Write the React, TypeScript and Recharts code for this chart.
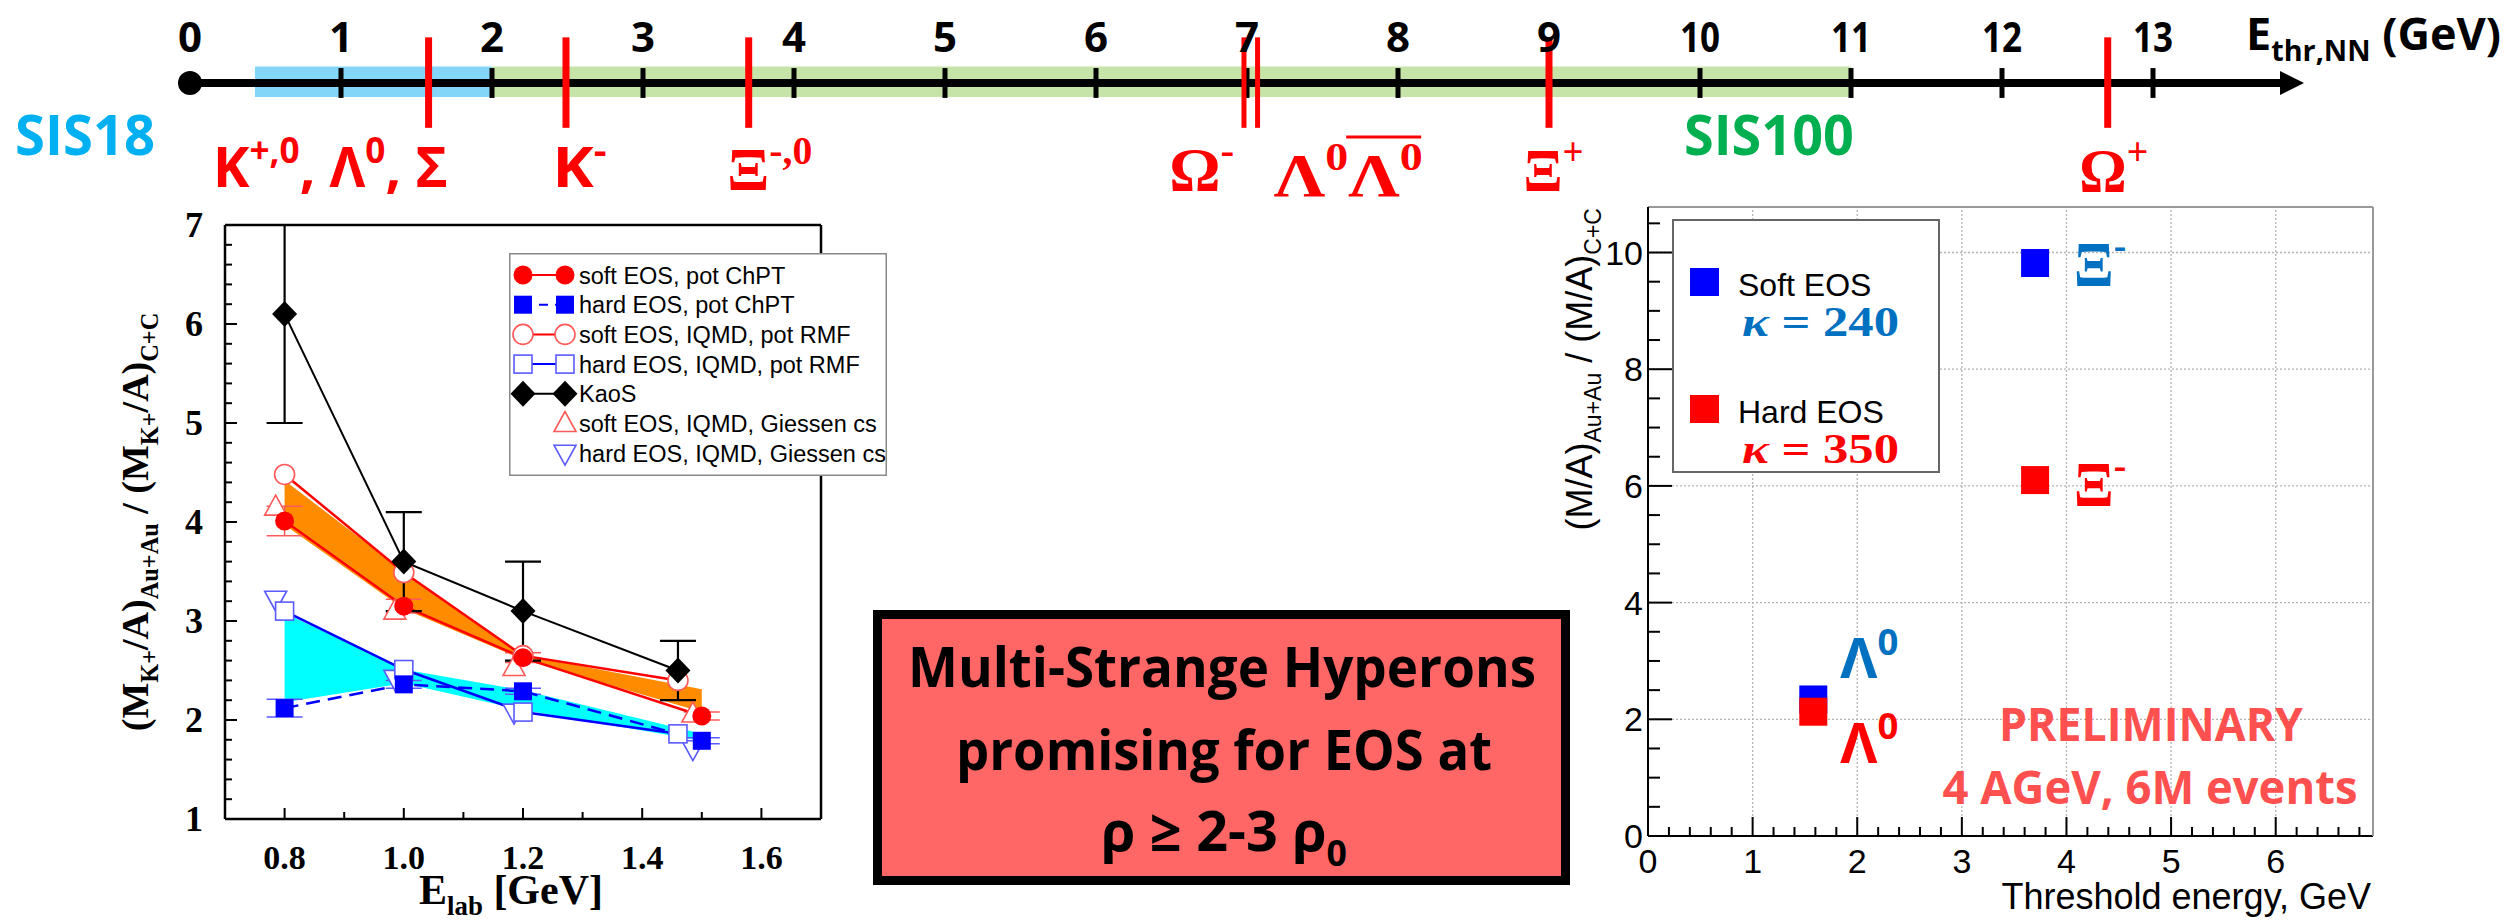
import React from 'react';
import {
  ComposedChart,
  Line,
  Area,
  Scatter,
  XAxis,
  YAxis,
  ReferenceLine,
  ReferenceArea,
  ReferenceDot,
  ErrorBar,
  Legend,
} from 'recharts';

const SLIDE = '"Open Sans", "Noto Sans", sans-serif';
const SERIF = '"Liberation Serif", "DejaVu Serif", serif';
const HELV = '"Liberation Sans", Arial, sans-serif';
const RED = '#FF0000';
const BLUE = '#0000FF';
const DEEP_BLUE = '#0070C0';

// ---- threshold scale, E_thr,NN in GeV
const scaleTicks = [0, 1, 2, 3, 4, 5, 6, 7, 8, 9, 10, 11, 12, 13];
const sis18Range = [0.43, 2];
const sis100Range = [2, 11];
const thresholds = [1.58, 2.49, 3.7, 6.98, 7.07, 9.0, 12.7];
const particleLabels = ['K^{+,0}, Λ^{0}, Σ', 'K^{-}', 'Ξ^{-,0}', 'Ω^{-}', 'Λ^{0}Λ^{0}', 'Ξ^{+}', 'Ω^{+}'];
const particleLabelAt = [0.93, 2.58, 3.84, 6.7, 7.67, 9.03, 12.74];

// ---- K+ double ratio vs beam energy
const energyTicks = [0.7, 0.8, 0.9, 1.0, 1.1, 1.2, 1.3, 1.4, 1.5, 1.6, 1.7];
const energyLabels = [0.8, 1.0, 1.2, 1.4, 1.6];
const ratioTicks = [1, 1.2, 1.4, 1.6, 1.8, 2, 2.2, 2.4, 2.6, 2.8, 3, 3.2, 3.4, 3.6, 3.8, 4, 4.2, 4.4, 4.6, 4.8, 5, 5.2, 5.4, 5.6, 5.8, 6, 6.2, 6.4, 6.6, 6.8, 7];
const ratioMax = 7;

const kaosE = [0.8, 1.0, 1.2, 1.46];
const kaosRatio = [6.1, 3.6, 3.1, 2.5];
const kaosErr = [1.1, 0.5, 0.5, 0.3];

const chptE = [0.8, 1.0, 1.2, 1.5];
const softChpt = [4.01, 3.15, 2.63, 2.04];
const softChptErr = [0.15, 0.07, 0.05, 0.04];
const hardChpt = [2.12, 2.36, 2.29, 1.79];
const hardChptErr = [0.09, 0.04, 0.03, 0.03];

const rmfE = [0.8, 1.0, 1.2, 1.46];
const softRmf = [4.48, 3.49, 2.65, 2.4];
const hardRmf = [3.1, 2.51, 2.08, 1.86];

const giessenE = [0.785, 0.985, 1.185, 1.485];
const softGiessen = [4.15, 3.1, 2.53, 2.06];
const hardGiessen = [3.22, 2.42, 2.08, 1.71];

const bandE = [0.8, 1.0, 1.2, 1.5];
const softBandLow = [3.97, 3.12, 2.61, 2.08];
const softBandHigh = [4.42, 3.5, 2.66, 2.31];
const hardBandLow = [2.18, 2.37, 2.1, 1.79];
const hardBandHigh = [3.08, 2.51, 2.3, 1.86];

// ---- multi-strange ratio vs threshold energy
const thrTicksX = [0, 0.2, 0.4, 0.6, 0.8, 1, 1.2, 1.4, 1.6, 1.8, 2, 2.2, 2.4, 2.6, 2.8, 3, 3.2, 3.4, 3.6, 3.8, 4, 4.2, 4.4, 4.6, 4.8, 5, 5.2, 5.4, 5.6, 5.8, 6, 6.2, 6.4, 6.6, 6.8];
const thrTicksY = [0, 0.5, 1, 1.5, 2, 2.5, 3, 3.5, 4, 4.5, 5, 5.5, 6, 6.5, 7, 7.5, 8, 8.5, 9, 9.5, 10, 10.5];
const hyperons = ['Λ^{0}', 'Ξ^{-}'];
const hyperonThr = [1.58, 3.7];
const softEos = [2.34, 9.82];
const hardEos = [2.13, 6.1];
const eosNames = ['Soft EOS', 'Hard EOS'];
const kappa = [240, 350];

const isInt = (v: number) => Math.abs(v - Math.round(v)) < 1e-6;

// tiny markup: ^{..} superscript, _{..} subscript
function splitRich(s: string) {
  const out: { t: string; k: string }[] = [];
  const re = /([\^_])\{([^}]*)\}/g;
  let last = 0;
  let m: RegExpExecArray | null;
  while ((m = re.exec(s))) {
    if (m.index > last) out.push({ t: s.slice(last, m.index), k: 'n' });
    out.push({ t: m[2], k: m[1] });
    last = re.lastIndex;
  }
  if (last < s.length) out.push({ t: s.slice(last), k: 'n' });
  return out;
}

function Rich({ x, y, text, size, anchor = 'middle', width, fill = '#000', family = SLIDE, weight = 700, rotate }: any) {
  let shift = 0;
  const spans = splitRich(text).map((p, i) => {
    const target = p.k === '^' ? -0.42 * size : p.k === '_' ? 0.26 * size : 0;
    const dy = target - shift;
    shift = target;
    return (
      <tspan key={i} dy={dy} fontSize={p.k === 'n' ? size : size * 0.64}>
        {p.t}
      </tspan>
    );
  });
  return (
    <text
      x={x}
      y={y}
      textAnchor={anchor}
      fontSize={size}
      fontFamily={family}
      fontWeight={weight}
      fill={fill}
      textLength={width}
      lengthAdjust={width ? 'spacingAndGlyphs' : undefined}
      transform={rotate ? `rotate(${rotate} ${x} ${y})` : undefined}
    >
      {spans}
    </text>
  );
}

const Arrow = (p: any) => (
  <g>
    <line x1={p.x1} y1={p.y1} x2={p.x2 - 22} y2={p.y2} stroke="#000" strokeWidth={8} />
    <polygon points={`${p.x2},${p.y2} ${p.x2 - 24},${p.y2 - 12} ${p.x2 - 24},${p.y2 + 12}`} fill="#000" />
  </g>
);

function ThresholdScale() {
  const numbers = scaleTicks.map((v) => ({ x: v, y: 0.37, text: String(v) }));
  const particleStyle = [
    { serif: false, w: 235, y: -1.25 },
    { serif: false, w: 54, y: -1.25 },
    { serif: true, w: 85, y: -1.29 },
    { serif: true, w: 65, y: -1.29 },
    { serif: true, w: 149, y: -1.36 },
    { serif: true, w: 60, y: -1.3 },
    { serif: true, w: 69, y: -1.3 },
  ];
  const particles = particleLabels.map((text, i) => ({ x: particleLabelAt[i], y: particleStyle[i].y, text, i }));
  const machines = [
    { x: -0.695, y: -0.867, text: 'SIS18', color: '#00B0F0', w: 140 },
    { x: 10.457, y: -0.867, text: 'SIS100', color: '#00B050', w: 170 },
  ];
  const unit = [{ x: 13.616, y: 0.4, text: 'E_{thr,NN} (GeV)' }];

  return (
    <ComposedChart width={2509} height={240} margin={{ top: 0, right: 0, bottom: 0, left: 0 }}>
      <XAxis hide type="number" dataKey="x" domain={[-190 / 151, 2319 / 151]} allowDataOverflow />
      <YAxis hide type="number" dataKey="y" domain={[-157 / 83, 1]} allowDataOverflow />
      <ReferenceArea x1={sis18Range[0]} x2={sis18Range[1]} y1={-0.17} y2={0.2} fill="#84D6F8" fillOpacity={1} stroke="none" />
      <ReferenceArea x1={sis100Range[0]} x2={sis100Range[1]} y1={-0.17} y2={0.2} fill="#C6E4A8" fillOpacity={1} stroke="none" />
      <ReferenceLine segment={[{ x: 0, y: 0 }, { x: 14, y: 0 }]} shape={Arrow} />
      {scaleTicks.slice(1).map((v) => (
        <ReferenceLine key={`t${v}`} segment={[{ x: v, y: -0.18 }, { x: v, y: 0.18 }]} stroke="#000" strokeWidth={5} />
      ))}
      <ReferenceDot x={0} y={0} r={12} fill="#000" stroke="none" />
      {thresholds.map((v, i) => (
        <ReferenceLine
          key={`r${i}`}
          segment={[{ x: v, y: -0.54 }, { x: v, y: 0.55 }]}
          stroke={RED}
          strokeWidth={v > 6.9 && v < 7.2 ? 5 : 7}
        />
      ))}
      <Scatter
        data={numbers}
        isAnimationActive={false}
        shape={(p: any) => (
          <Rich x={p.cx} y={p.cy} text={p.payload.text} size={42} width={p.payload.text.length > 1 ? 40 : undefined} />
        )}
      />
      <Scatter
        data={particles}
        isAnimationActive={false}
        shape={(p: any) => {
          const st = particleStyle[p.payload.i];
          return (
            <g>
              <Rich
                x={p.cx}
                y={p.cy}
                text={p.payload.text}
                size={st.serif ? 62 : 56}
                family={st.serif ? SERIF : SLIDE}
                width={st.w}
                fill={RED}
              />
              {p.payload.i === 4 && <line x1={p.cx - 2} x2={p.cx + 73} y1={p.cy - 59} y2={p.cy - 59} stroke={RED} strokeWidth={3} />}
            </g>
          );
        }}
      />
      <Scatter
        data={machines}
        isAnimationActive={false}
        shape={(p: any) => <Rich x={p.cx} y={p.cy} text={p.payload.text} size={56} width={p.payload.w} fill={p.payload.color} />}
      />
      <Scatter
        data={unit}
        isAnimationActive={false}
        shape={(p: any) => <Rich x={p.cx} y={p.cy} text={p.payload.text} size={44} anchor="start" width={255} />}
      />
    </ComposedChart>
  );
}

function Marker({ kind, cx, cy }: any) {
  if (cx == null || cy == null) return null;
  switch (kind) {
    case 'dot':
      return <circle cx={cx} cy={cy} r={9.5} fill={RED} />;
    case 'ring':
      return <circle cx={cx} cy={cy} r={10} fill="#fff" stroke="#FF5A5A" strokeWidth={1.6} />;
    case 'square':
      return <rect x={cx - 9} y={cy - 9} width={18} height={18} fill={BLUE} />;
    case 'box':
      return <rect x={cx - 9} y={cy - 9} width={18} height={18} fill="#fff" stroke="#5A5AFF" strokeWidth={1.6} />;
    case 'diamond':
      return <polygon points={`${cx},${cy - 13} ${cx + 12.5},${cy} ${cx},${cy + 13} ${cx - 12.5},${cy}`} fill="#000" />;
    case 'up':
      return <polygon points={`${cx},${cy - 12} ${cx + 11},${cy + 8} ${cx - 11},${cy + 8}`} fill="#fff" stroke="#FF5A5A" strokeWidth={1.6} />;
    case 'down':
      return <polygon points={`${cx - 11},${cy - 8} ${cx + 11},${cy - 8} ${cx},${cy + 12}`} fill="#fff" stroke="#5A5AFF" strokeWidth={1.6} />;
    default:
      return null;
  }
}

const kaonSeries = [
  { name: 'soft EOS, pot ChPT', kind: 'dot', color: RED, dash: undefined, pair: true },
  { name: 'hard EOS, pot ChPT', kind: 'square', color: BLUE, dash: '9 7', pair: true },
  { name: 'soft EOS, IQMD, pot RMF', kind: 'ring', color: RED, dash: undefined, pair: true },
  { name: 'hard EOS, IQMD, pot RMF', kind: 'box', color: BLUE, dash: undefined, pair: true },
  { name: 'KaoS', kind: 'diamond', color: '#000', dash: undefined, pair: true },
  { name: 'soft EOS, IQMD, Giessen cs', kind: 'up', color: RED, dash: undefined, pair: false },
  { name: 'hard EOS, IQMD, Giessen cs', kind: 'down', color: BLUE, dash: undefined, pair: false },
];

const KaonLegend = () => (
  <svg width={378} height={223} style={{ display: 'block' }}>
    <rect x={0.75} y={0.75} width={376.5} height={221.5} fill="#fff" stroke="#8a8a8a" strokeWidth={1.5} />
    {kaonSeries.map((s, i) => {
      const cy = 22 + i * 29.7;
      return (
        <g key={s.name}>
          {s.pair && <line x1={14} x2={56} y1={cy} y2={cy} stroke={s.color} strokeWidth={2} strokeDasharray={s.dash} />}
          {s.pair && <Marker kind={s.kind} cx={14} cy={cy} />}
          <Marker kind={s.kind} cx={56} cy={cy} />
          <text x={70} y={cy + 8.5} fontFamily={HELV} fontSize={23.5} fill="#000">
            {s.name}
          </text>
        </g>
      );
    })}
  </svg>
);

const EnergyTick = ({ x, y, payload }: any) => {
  const v = payload.value;
  const major = energyLabels.some((l) => Math.abs(l - v) < 1e-6);
  return (
    <g>
      <line x1={x} x2={x} y1={y} y2={y - (major ? 11 : 7)} stroke="#000" strokeWidth={2} />
      {major && (
        <text x={x} y={y + 50} textAnchor="middle" fontFamily={SERIF} fontWeight={700} fontSize={34}>
          {v.toFixed(1)}
        </text>
      )}
    </g>
  );
};

const EnergyTopTick = ({ x, y, payload }: any) => {
  const major = energyLabels.some((l) => Math.abs(l - payload.value) < 1e-6);
  return <line x1={x} x2={x} y1={y} y2={y + (major ? 11 : 7)} stroke="#000" strokeWidth={2} />;
};

const RatioTick = ({ x, y, payload }: any) => {
  const v = payload.value;
  return (
    <g>
      <line x1={x} x2={x + (isInt(v) ? 12 : 7)} y1={y} y2={y} stroke="#000" strokeWidth={2} />
      {isInt(v) && (
        <text x={x - 22} y={y + 12} textAnchor="end" fontFamily={SERIF} fontWeight={700} fontSize={36}>
          {v}
        </text>
      )}
    </g>
  );
};

const RatioRightTick = ({ x, y, payload }: any) => (
  <line x1={x} x2={x - (isInt(payload.value) ? 12 : 7)} y1={y} y2={y} stroke="#000" strokeWidth={2} />
);

function KaonChart() {
  // the upper KaoS error is cut at the frame, like in the original figure
  const kaos = kaosE.map((x, i) => ({ x, y: kaosRatio[i], err: [kaosErr[i], Math.min(kaosErr[i], ratioMax - kaosRatio[i])] }));
  const softC = chptE.map((x, i) => ({ x, y: softChpt[i], err: softChptErr[i] }));
  const hardC = chptE.map((x, i) => ({ x, y: hardChpt[i], err: hardChptErr[i] }));
  const softR = rmfE.map((x, i) => ({ x, y: softRmf[i] }));
  const hardR = rmfE.map((x, i) => ({ x, y: hardRmf[i] }));
  const softG = giessenE.map((x, i) => ({ x, y: softGiessen[i] }));
  const hardG = giessenE.map((x, i) => ({ x, y: hardGiessen[i] }));
  const softBand = bandE.map((x, i) => ({ x, lo: softBandLow[i], hi: softBandHigh[i] }));
  const hardBand = bandE.map((x, i) => ({ x, lo: hardBandLow[i], hi: hardBandHigh[i] }));
  const dot = (kind: string) => (p: any) => <Marker key={`${kind}${p.index}`} kind={kind} cx={p.cx} cy={p.cy} />;

  return (
    <ComposedChart width={900} height={730} margin={{ top: 34, right: 78, bottom: 100, left: 224 }}>
      <XAxis
        type="number"
        dataKey="x"
        domain={[0.7, 1.7]}
        ticks={energyTicks}
        interval={0}
        allowDataOverflow
        height={1}
        tickSize={0}
        tickMargin={0}
        tickLine={false}
        axisLine={{ stroke: '#000', strokeWidth: 2.5 }}
        tick={<EnergyTick />}
        label={{
          content: (p: any) =>
            p.viewBox ? (
              <Rich x={p.viewBox.x + p.viewBox.width / 2 - 12} y={p.viewBox.y + 85} text="E_{lab} [GeV]" size={42} family={SERIF} />
            ) : null,
        }}
      />
      <XAxis
        xAxisId="top"
        orientation="top"
        type="number"
        domain={[0.7, 1.7]}
        ticks={energyTicks}
        interval={0}
        height={1}
        tickSize={0}
        tickMargin={0}
        tickLine={false}
        axisLine={{ stroke: '#000', strokeWidth: 2.5 }}
        tick={<EnergyTopTick />}
      />
      <YAxis
        type="number"
        dataKey="y"
        domain={[1, ratioMax]}
        ticks={ratioTicks}
        interval={0}
        allowDataOverflow
        width={1}
        tickSize={0}
        tickMargin={0}
        tickLine={false}
        axisLine={{ stroke: '#000', strokeWidth: 2.5 }}
        tick={<RatioTick />}
        label={{
          content: (p: any) =>
            p.viewBox ? (
              <Rich
                x={p.viewBox.x - 76}
                y={p.viewBox.y + p.viewBox.height / 2}
                text="(M_{K+}/A)_{Au+Au} / (M_{K+}/A)_{C+C}"
                size={38}
                family={SERIF}
                rotate={-90}
              />
            ) : null,
        }}
      />
      <YAxis
        yAxisId="right"
        orientation="right"
        type="number"
        domain={[1, ratioMax]}
        ticks={ratioTicks}
        interval={0}
        width={1}
        tickSize={0}
        tickMargin={0}
        tickLine={false}
        axisLine={{ stroke: '#000', strokeWidth: 2.5 }}
        tick={<RatioRightTick />}
      />
      <Area data={softBand} dataKey={(d: any) => [d.lo, d.hi]} type="linear" fill="#FF8C00" fillOpacity={1} stroke="none" isAnimationActive={false} />
      <Area data={hardBand} dataKey={(d: any) => [d.lo, d.hi]} type="linear" fill="#00FFFF" fillOpacity={1} stroke="none" isAnimationActive={false} />
      <Line data={hardR} dataKey="y" type="linear" stroke={BLUE} strokeWidth={2.5} dot={dot('box')} activeDot={false} isAnimationActive={false} />
      <Line data={softR} dataKey="y" type="linear" stroke={RED} strokeWidth={2.5} dot={dot('ring')} activeDot={false} isAnimationActive={false} />
      <Line data={hardC} dataKey="y" type="linear" stroke={BLUE} strokeWidth={2.5} strokeDasharray="14 8" dot={dot('square')} activeDot={false} isAnimationActive={false}>
        <ErrorBar dataKey="err" width={18} stroke="#5A5AFF" strokeWidth={1.5} direction="y" />
      </Line>
      <Line data={softC} dataKey="y" type="linear" stroke={RED} strokeWidth={2.5} dot={dot('dot')} activeDot={false} isAnimationActive={false}>
        <ErrorBar dataKey="err" width={18} stroke="#FF5A5A" strokeWidth={1.5} direction="y" />
      </Line>
      <Scatter data={softG} isAnimationActive={false} shape={(p: any) => <Marker kind="up" cx={p.cx} cy={p.cy} />} />
      <Scatter data={hardG} isAnimationActive={false} shape={(p: any) => <Marker kind="down" cx={p.cx} cy={p.cy} />} />
      <Line data={kaos} dataKey="y" type="linear" stroke="#000" strokeWidth={2} dot={dot('diamond')} activeDot={false} isAnimationActive={false}>
        <ErrorBar dataKey="err" width={18} stroke="#000" strokeWidth={2.2} direction="y" />
      </Line>
      <Legend
        layout="horizontal"
        verticalAlign="middle"
        align="center"
        content={() => <KaonLegend />}
        wrapperStyle={{ position: 'absolute', left: 509, top: 63, width: 378, height: 223 }}
      />
    </ComposedChart>
  );
}

const ThrTick = ({ x, y, payload }: any) => {
  const v = payload.value;
  return (
    <g>
      <line x1={x} x2={x} y1={y} y2={y - (isInt(v) ? 19 : 9)} stroke="#000" strokeWidth={2} />
      {isInt(v) && (
        <text x={x} y={y + 37} textAnchor="middle" fontFamily={HELV} fontSize={34}>
          {v}
        </text>
      )}
    </g>
  );
};

const RatioTickR = ({ x, y, payload }: any) => {
  const v = payload.value;
  const major = isInt(v) && Math.round(v) % 2 === 0;
  return (
    <g>
      <line x1={x} x2={x + (major ? 24 : 12)} y1={y} y2={y} stroke="#000" strokeWidth={2} />
      {major && (
        <text x={x - 5} y={y + 12} textAnchor="end" fontFamily={HELV} fontSize={34}>
          {v}
        </text>
      )}
    </g>
  );
};

const KappaText = ({ x, y, value, color }: any) => (
  <text x={x} y={y} fontFamily={SERIF} fontWeight={700} fontSize={42} fill={color} textLength={157} lengthAdjust="spacingAndGlyphs">
    <tspan fontStyle="italic">κ</tspan> = {value}
  </text>
);

const EosLegend = () => (
  <svg width={268} height={254} style={{ display: 'block' }}>
    <rect x={1} y={1} width={266} height={252} fill="#fff" stroke="#666" strokeWidth={2} />
    {eosNames.map((n, i) => {
      const top = i * 127;
      const col = i === 0 ? BLUE : RED;
      return (
        <g key={n}>
          <rect x={18} y={49 + top} width={29} height={28} fill={col} />
          <text x={66} y={77 + top} fontFamily={HELV} fontSize={32} fill="#000">
            {n}
          </text>
          <KappaText x={70} y={117 + top} value={kappa[i]} color={i === 0 ? DEEP_BLUE : RED} />
        </g>
      );
    })}
  </svg>
);

function HyperonShape(p: any, color: string, labelColor: string, below: boolean) {
  const i = p.payload.i;
  const serif = i === 1;
  const dy = serif ? (below ? 26 : 23) : below ? 51 : -21;
  return (
    <g>
      <rect x={p.cx - 14} y={p.cy - 14} width={28} height={28} fill={color} />
      <Rich
        x={p.cx + (serif ? 65 : 56)}
        y={p.cy + dy}
        text={hyperons[i]}
        size={serif ? 64 : 56}
        family={serif ? SERIF : SLIDE}
        fill={labelColor}
        width={serif ? 52 : 58}
      />
    </g>
  );
}

function HyperonChart() {
  const soft = hyperonThr.map((x, i) => ({ x, y: softEos[i], i }));
  const hard = hyperonThr.map((x, i) => ({ x, y: hardEos[i], i }));
  const gridX = thrTicksX.filter((v) => isInt(v) && v > 0);
  const gridY = thrTicksY.filter((v) => isInt(v) && v > 0 && Math.round(v) % 2 === 0);
  return (
    <ComposedChart width={949} height={740} margin={{ top: 26, right: 135, bottom: 83, left: 87 }}>
      <XAxis
        type="number"
        dataKey="x"
        domain={[0, 6.93]}
        ticks={thrTicksX}
        interval={0}
        allowDataOverflow
        height={1}
        tickSize={0}
        tickMargin={0}
        tickLine={false}
        axisLine={{ stroke: '#000', strokeWidth: 2 }}
        tick={<ThrTick />}
        label={{
          content: (p: any) =>
            p.viewBox ? (
              <text x={p.viewBox.x + p.viewBox.width - 2} y={p.viewBox.y + 73} textAnchor="end" fontFamily={HELV} fontSize={36}>
                Threshold energy, GeV
              </text>
            ) : null,
        }}
      />
      <XAxis xAxisId="top" orientation="top" type="number" domain={[0, 6.93]} height={1} tick={false} tickLine={false} axisLine={{ stroke: '#999', strokeWidth: 2 }} />
      <YAxis
        type="number"
        dataKey="y"
        domain={[0, 10.78]}
        ticks={thrTicksY}
        interval={0}
        allowDataOverflow
        width={1}
        tickSize={0}
        tickMargin={0}
        tickLine={false}
        axisLine={{ stroke: '#000', strokeWidth: 2 }}
        tick={<RatioTickR />}
        label={{
          content: (p: any) =>
            p.viewBox ? (
              <Rich
                x={p.viewBox.x - 55}
                y={p.viewBox.y + 1}
                text="(M/A)_{Au+Au} / (M/A)_{C+C}"
                size={36}
                family={HELV}
                weight={400}
                anchor="end"
                rotate={-90}
              />
            ) : null,
        }}
      />
      <YAxis yAxisId="right" orientation="right" type="number" domain={[0, 10.78]} width={1} tick={false} tickLine={false} axisLine={{ stroke: '#999', strokeWidth: 2 }} />
      {gridX.map((v) => (
        <ReferenceLine key={`gx${v}`} x={v} stroke="#b4b4b4" strokeWidth={1.3} strokeDasharray="2 2" />
      ))}
      {gridY.map((v) => (
        <ReferenceLine key={`gy${v}`} y={v} stroke="#b4b4b4" strokeWidth={1.3} strokeDasharray="2 2" />
      ))}
      <Scatter data={soft} isAnimationActive={false} shape={(p: any) => HyperonShape(p, BLUE, DEEP_BLUE, false)} />
      <Scatter data={hard} isAnimationActive={false} shape={(p: any) => HyperonShape(p, RED, RED, true)} />
      <Legend
        layout="horizontal"
        verticalAlign="middle"
        align="center"
        content={() => <EosLegend />}
        wrapperStyle={{ position: 'absolute', left: 112, top: 39, width: 268, height: 254 }}
      />
    </ComposedChart>
  );
}

export default function App() {
  return (
    <div style={{ position: 'absolute', left: 0, top: 0, width: 2509, height: 920, background: '#fff', overflow: 'hidden' }}>
      <div style={{ position: 'absolute', left: 0, top: 0 }}>
        <ThresholdScale />
      </div>
      <div style={{ position: 'absolute', left: 0, top: 190 }}>
        <KaonChart />
      </div>
      <div style={{ position: 'absolute', left: 1560, top: 180 }}>
        <HyperonChart />
      </div>
      <svg width={2509} height={920} style={{ position: 'absolute', left: 0, top: 0, pointerEvents: 'none' }}>
        <rect x={877.5} y={614.5} width={688} height={266} fill="#FF6666" stroke="#000" strokeWidth={9} />
        <Rich x={1222} y={687} text="Multi-Strange Hyperons" size={56} width={628} />
        <Rich x={1224} y={770} text="promising for EOS at" size={56} width={536} />
        <Rich x={1224} y={851} text="ρ ≥ 2-3 ρ_{0}" size={56} width={246} />
        <Rich x={2151} y={741} text="PRELIMINARY" size={47} width={304} fill="#FF5050" />
        <Rich x={2150} y={804} text="4 AGeV, 6M events" size={47} width={415} fill="#FF5050" />
      </svg>
    </div>
  );
}
